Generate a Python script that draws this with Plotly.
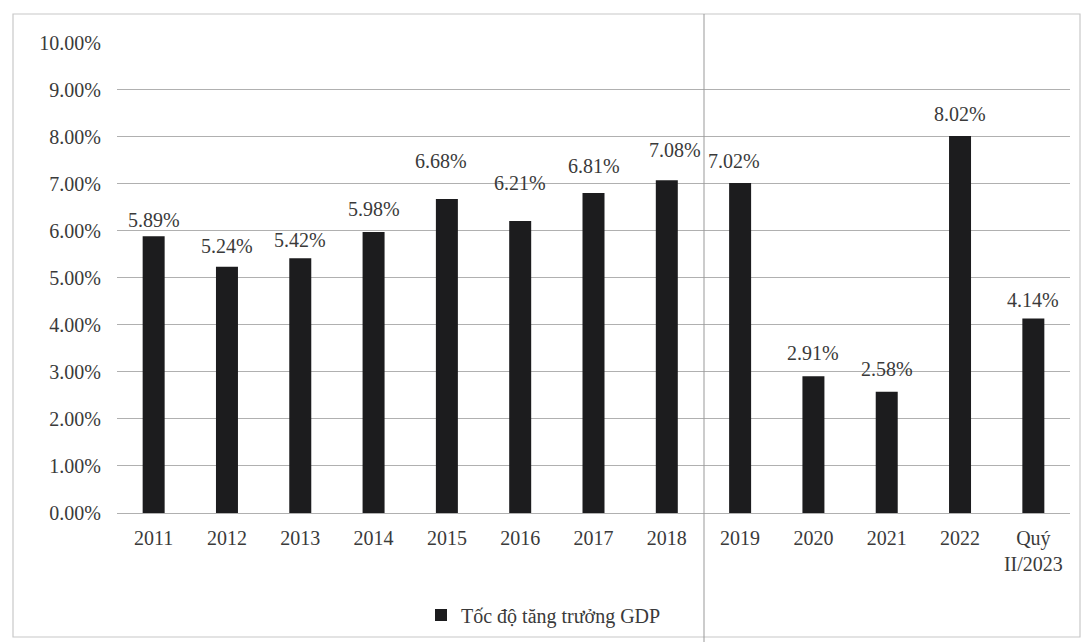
import plotly.graph_objects as go

categories = ["2011", "2012", "2013", "2014", "2015", "2016", "2017", "2018",
              "2019", "2020", "2021", "2022", "Quý<br>II/2023"]
growth = [5.89, 5.24, 5.42, 5.98, 6.68, 6.21, 6.81, 7.08, 7.02, 2.91, 2.58, 8.02, 4.14]
labels = [f"{v:.2f}%" for v in growth]
y_ticks = [0, 1, 2, 3, 4, 5, 6, 7, 8, 9, 10]
y_tick_text = [f"{v:.2f}%" for v in y_ticks]

# label placement (pixels above bar top, horizontal nudge) as in the source figure
label_dy = [16, 21, 18, 23, 38, 38, 27, 30, 22, 23, 23, 22, 18]
label_dx = [0, 0, 0, 0, -6, 0, 0, 8, -6, 0, 0, 0, 0]

W, H = 1089, 642
ML, MR, MT, MB = 117, 19, 42, 129
font = "Liberation Serif"
txt = "#3a3a3a"

fig = go.Figure()
fig.add_trace(go.Bar(
    x=categories, y=growth,
    marker=dict(color="#1c1c1e", line=dict(width=0)),
    name="Tốc độ tăng trưởng GDP",
))

# annotations on a category axis take the category's serial index
for i, (v, t, dy, dx) in enumerate(zip(growth, labels, label_dy, label_dx)):
    fig.add_annotation(x=i, y=v, text=t, showarrow=False, yanchor="middle",
                       yshift=dy, xshift=dx,
                       font=dict(family=font, size=20, color=txt))

pw, ph = W - ML - MR, H - MT - MB
def px(x):
    return (x - ML) / pw
def py(y):
    return (H - MB - y) / ph

fig.update_layout(
    width=W, height=H,
    margin=dict(l=ML, r=MR, t=MT, b=MB, autoexpand=False),
    paper_bgcolor="white", plot_bgcolor="white",
    bargap=0.7,
    font=dict(family=font, size=20, color=txt),
    showlegend=True,
    legend=dict(orientation="h", xref="container", x=421 / W, xanchor="left",
                yref="container", y=(H - 615) / H, yanchor="middle",
                font=dict(family=font, size=20, color=txt)),
    xaxis=dict(type="category", categoryorder="array", categoryarray=categories,
               range=[-0.5, len(categories) - 0.5],
               showgrid=False, showline=False, ticks="", tickfont=dict(size=20),
               ticklabelstandoff=11, automargin=False),
    yaxis=dict(range=[0, 10.02], tickvals=y_ticks, ticktext=y_tick_text,
               showgrid=True, gridcolor="#b0b0b0", gridwidth=1.4,
               zeroline=True, zerolinecolor="#b0b0b0", zerolinewidth=1.4,
               ticks="", tickfont=dict(size=20), ticklabelstandoff=15,
               automargin=False),
    shapes=[
        dict(type="rect", xref="paper", yref="paper",
             x0=px(13), x1=px(1080), y0=py(637), y1=py(14),
             line=dict(color="#c8c8c8", width=1.2), layer="below"),
        dict(type="line", xref="paper", yref="paper",
             x0=px(704), x1=px(704), y0=py(642), y1=py(14),
             line=dict(color="#999", width=1)),
    ],
)

fig.write_html("out.html")
